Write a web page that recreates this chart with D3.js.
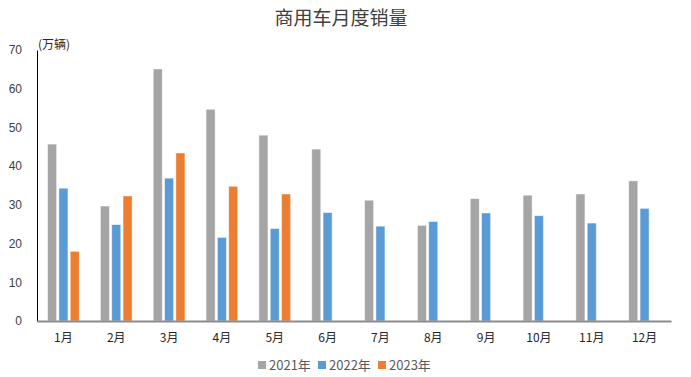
<!DOCTYPE html>
<html><head><meta charset="utf-8">
<script src="https://cdn.jsdelivr.net/npm/d3@7/dist/d3.min.js"></script>
<style>body{margin:0;background:#fff}svg{display:block}</style>
</head><body><svg id="c" width="691" height="377"></svg>
<script>
const months = ["1月","2月","3月","4月","5月","6月","7月","8月","9月","10月","11月","12月"];
const seriesNames = ["2021年","2022年","2023年"];
const s2021 = [45.7,29.7,65.1,54.7,48.0,44.4,31.2,24.7,31.6,32.5,32.8,36.2];
const s2022 = [34.3,24.9,36.9,21.6,23.9,28.0,24.5,25.7,27.9,27.2,25.3,29.1];
const s2023 = [18.0,32.3,43.4,34.8,32.8,null,null,null,null,null,null,null];
const yTicks = [0,10,20,30,40,50,60,70];
const colors = ["#A5A5A5","#5B9BD5","#ED7D31"];
const allSeries = [s2021,s2022,s2023];

(function(){
const svg = d3.select("#c");
const font = "'Noto Sans CJK SC','Liberation Sans',sans-serif";
const L = 37, R = 671, T = 50, B = 321;

const x = d3.scaleBand().domain(months).range([L,R]).paddingInner(0.4).paddingOuter(0.2);
const x1 = d3.scaleBand().domain(d3.range(3)).range([0,x.bandwidth()]).paddingInner(0.2);
const y = d3.scaleLinear().domain([0,70]).range([B,T]);

svg.append("text").attr("x",341).attr("y",25).attr("text-anchor","middle")
  .attr("font-family",font).attr("font-size",19).attr("fill","#404040").text("商用车月度销量");

const g = svg.append("g");
months.forEach((m,i)=>{
  allSeries.forEach((s,k)=>{
    const v = s[i];
    if(v==null) return;
    g.append("rect").attr("x",x(m)+x1(k)).attr("width",x1.bandwidth())
      .attr("y",y(v)).attr("height",y(0)-y(v)).attr("fill",colors[k])
      .attr("stroke","#fff").attr("stroke-opacity",0.6).attr("stroke-width",0.8);
  });
});

const ya = svg.append("g").attr("transform",`translate(${L},0)`)
  .call(d3.axisLeft(y).tickValues(yTicks).tickSize(0).tickPadding(15));
ya.select(".domain").attr("stroke","#000").attr("stroke-width",1);
ya.selectAll("text").attr("font-family","'Liberation Sans',sans-serif").attr("font-size",12).attr("fill","#404040");

const xa = svg.append("g").attr("transform",`translate(0,${B})`)
  .call(d3.axisBottom(x).tickSize(0).tickPadding(12));
xa.select(".domain").attr("stroke","#8c8c8c").attr("stroke-width",2);
xa.selectAll("text").attr("font-family",font).attr("font-size",12).attr("fill","#262626");

svg.append("text").attr("x",38).attr("y",49).attr("font-family",font)
  .attr("font-size",12).attr("fill","#262626").text("(万辆)");

const lx = [258,318,378];
seriesNames.forEach((n,k)=>{
  svg.append("rect").attr("x",lx[k]).attr("y",361).attr("width",8).attr("height",8).attr("fill",colors[k]);
  svg.append("text").attr("x",lx[k]+11).attr("y",369.5).attr("font-family",font)
    .attr("font-size",13).attr("fill","#595959").text(n);
});
})();
</script></body></html>
